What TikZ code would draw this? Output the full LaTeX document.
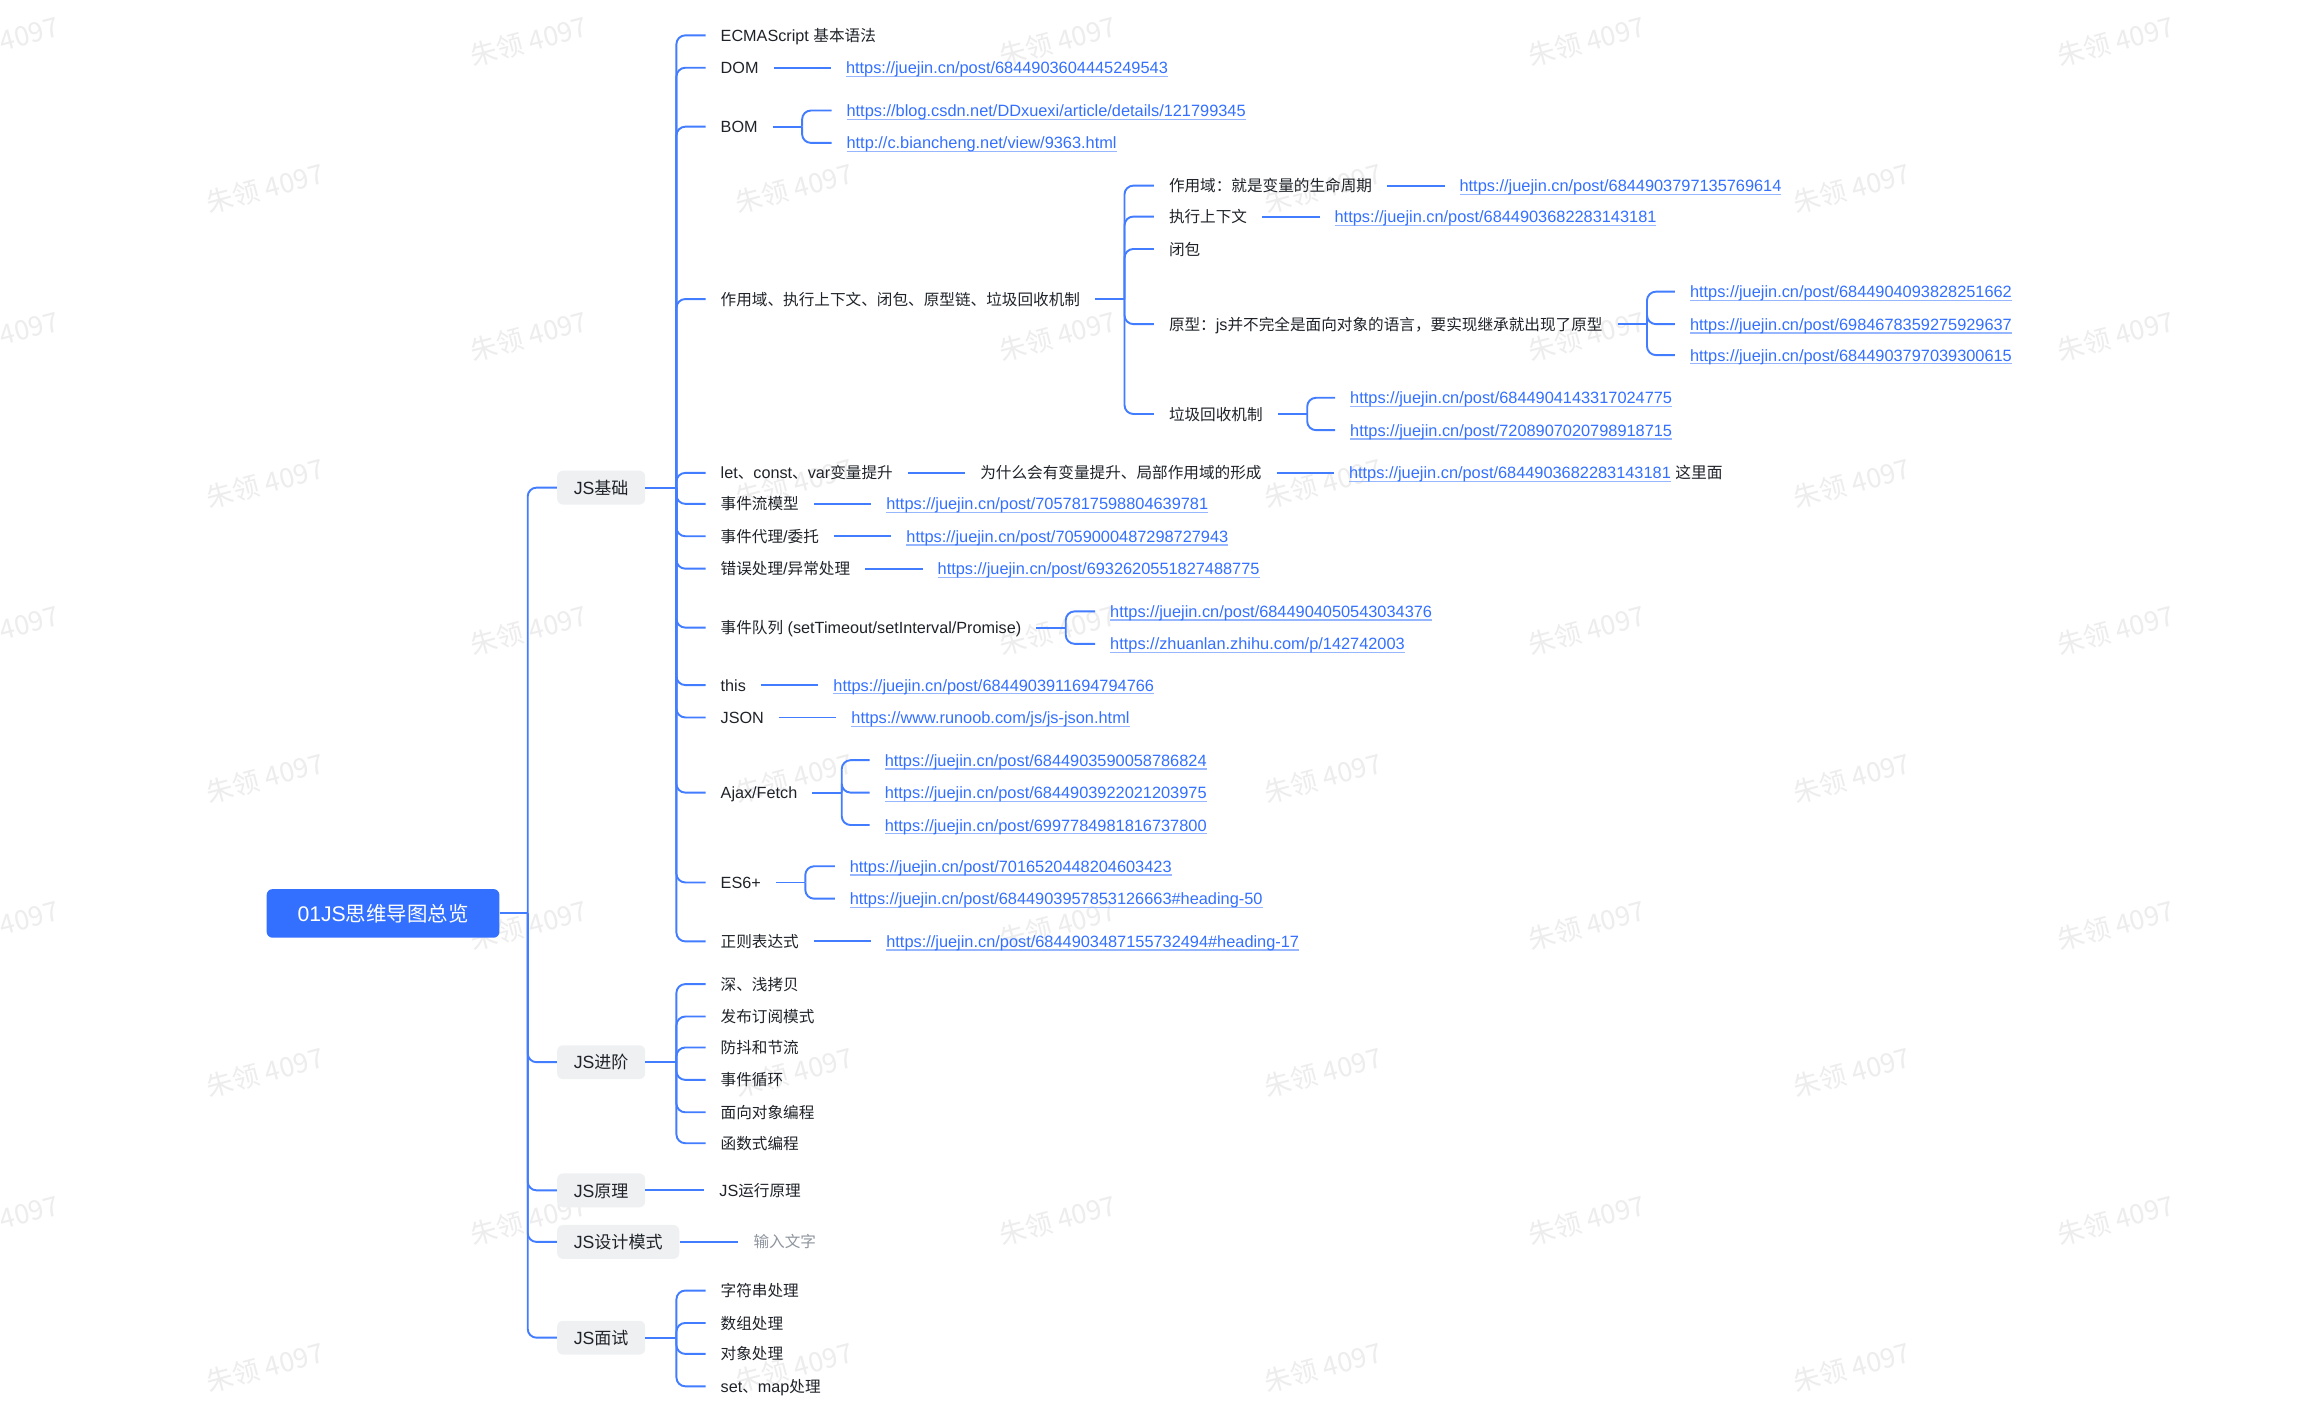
\documentclass[tikz,border=0pt]{standalone}
\usepackage{fontspec}
\setmainfont{Liberation Sans}
\newfontfamily\cjkf[Scale=0.964]{Noto Sans CJK SC}
\newcommand\C[1]{{\cjkf #1}}
\usetikzlibrary{calc}
\definecolor{brand}{RGB}{51,112,255}
\definecolor{lineblue}{RGB}{66,124,255}
\definecolor{lnk}{RGB}{51,112,255}
\definecolor{lnkline}{RGB}{150,182,255}
\definecolor{boxgray}{RGB}{239,240,242}
\definecolor{txt}{RGB}{31,35,41}
\definecolor{hintgray}{RGB}{143,149,158}
\definecolor{wmgray}{RGB}{237,237,237}
\newcommand\U[1]{\setbox0\hbox{#1}\rlap{\color{lnkline}\rule[-2.3pt]{\wd0}{0.9pt}}\box0}
\tikzset{
 conn/.style={draw=lineblue, line width=1.3pt, rounded corners=6pt},
 rootbox/.style={fill=brand, text=white, rounded corners=4pt, minimum width=158pt, minimum height=33pt, inner sep=0pt, font=\fontsize{14.4}{16}\selectfont, text height=10.8pt, text depth=0pt},
 topic/.style={fill=boxgray, text=txt, rounded corners=4pt, minimum height=23pt, inner xsep=11.3pt, inner ysep=0pt, font=\fontsize{12}{14}\selectfont, text height=9pt, text depth=0pt, anchor=west},
 leaf/.style={text=txt, inner xsep=10pt, inner ysep=2pt, font=\fontsize{11}{13}\selectfont, text height=8.2pt, text depth=0pt, anchor=west},
 link/.style={leaf, text=lnk, font=\fontsize{11.1}{13}\selectfont},
 hint/.style={leaf, text=hintgray},
 wmark/.style={text=wmgray, font=\cjkf\fontsize{19}{22}\selectfont, rotate=15, inner sep=0pt},
}
\begin{document}
\begin{tikzpicture}[x=1pt,y=-1pt]
\useasboundingbox[fill=white] (0,0) rectangle (1568,958);
% watermarks
\foreach \y in {28,228,428,628,828}{\foreach \x in {0,359,718,1077,1436}{\node[wmark] (wa-\x-\y) at (\x,\y) {朱领 4097};}}
\foreach \y in {128,328,528,728,928}{\foreach \x in {180,539,898,1257}{\node[wmark] (wb-\x-\y) at (\x,\y) {朱领 4097};}}

% root and main topics
\node[rootbox] (root) at (260,620) {01JS\C{思维导图总览}};
\coordinate (jr) at ($(root.east)+(19,0)$);
\node[topic] (jc) at (378,331) {JS\C{基础}};
\node[topic] (jj) at (378,721) {JS\C{进阶}};
\node[topic] (jy) at (378,808) {JS\C{原理}};
\node[topic] (js) at (378,843) {JS\C{设计模式}};
\node[topic] (jm) at (378,908) {JS\C{面试}};
\draw[conn] (root.east) -- (jr);
\foreach \n in {jc,jj,jy,js,jm} \draw[conn] (jr) |- (\n.west);

% JS基础
\coordinate (kc) at ($(jc.east)+(21,0)$);
\draw[conn] (jc.east) -- (kc);
\node[leaf] (a1) at (479,24) {ECMAScript \C{基本语法}};
\node[leaf] (a2) at (479,46) {DOM};
\node[leaf] (a3) at (479,86) {BOM};
\node[leaf] (a4) at (479,203) {\C{作用域、执行上下文、闭包、原型链、垃圾回收机制}};
\node[leaf] (a5) at (479,321) {let\C{、}const\C{、}var\C{变量提升}};
\node[leaf] (a6) at (479,342) {\C{事件流模型}};
\node[leaf] (a7) at (479,364) {\C{事件代理}/\C{委托}};
\node[leaf] (a8) at (479,386) {\C{错误处理}/\C{异常处理}};
\node[leaf] (a9) at (479,426) {\C{事件队列} (setTimeout/setInterval/Promise)};
\node[leaf] (a10) at (479,465) {this};
\node[leaf] (a11) at (479,487) {JSON};
\node[leaf] (a12) at (479,538) {Ajax/Fetch};
\node[leaf] (a13) at (479,599) {ES6+};
\node[leaf] (a14) at (479,639) {\C{正则表达式}};
\foreach \n in {a1,a2,a3,a4,a5,a6,a7,a8,a9,a10,a11,a12,a13,a14} \draw[conn] (kc) |- (\n.west);

% DOM
\node[link] (a2u) at ($(a2.east)+(39,0)$) {\U{https://juejin.cn/post/6844903604445249543}};
\draw[conn] (a2.east) -- (a2u.west);
% BOM
\coordinate (k3) at ($(a3.east)+(20,0)$);
\draw[conn] (a3.east) -- (k3);
\node[link] (a3u1) at ($(k3)+(20,-11)$) {\U{https://blog.csdn.net/DDxuexi/article/details/121799345}};
\node[link] (a3u2) at ($(k3)+(20,11)$) {\U{http://c.biancheng.net/view/9363.html}};
\foreach \n in {a3u1,a3u2} \draw[conn] (k3) |- (\n.west);

% scope group
\coordinate (k4) at ($(a4.east)+(20,0)$);
\draw[conn] (a4.east) -- (k4);
\node[leaf] (b1) at ($(k4)+(20,-77)$) {\C{作用域：就是变量的生命周期}};
\node[leaf] (b2) at ($(k4)+(20,-56)$) {\C{执行上下文}};
\node[leaf] (b3) at ($(k4)+(20,-34)$) {\C{闭包}};
\node[leaf] (b4) at ($(k4)+(20,17)$) {\C{原型：}js\C{并不完全是面向对象的语言，要实现继承就出现了原型}};
\node[leaf] (b5) at ($(k4)+(20,78)$) {\C{垃圾回收机制}};
\foreach \n in {b1,b2,b3,b4,b5} \draw[conn] (k4) |- (\n.west);
\node[link] (b1u) at ($(b1.east)+(39,0)$) {\U{https://juejin.cn/post/6844903797135769614}};
\draw[conn] (b1.east) -- (b1u.west);
\node[link] (b2u) at ($(b2.east)+(39,0)$) {\U{https://juejin.cn/post/6844903682283143181}};
\draw[conn] (b2.east) -- (b2u.west);
\coordinate (k44) at ($(b4.east)+(20,0)$);
\draw[conn] (b4.east) -- (k44);
\node[link] (b4u1) at ($(k44)+(19,-22)$) {\U{https://juejin.cn/post/6844904093828251662}};
\node[link] (b4u2) at ($(k44)+(19,0)$) {\U{https://juejin.cn/post/6984678359275929637}};
\node[link] (b4u3) at ($(k44)+(19,21)$) {\U{https://juejin.cn/post/6844903797039300615}};
\foreach \n in {b4u1,b4u2,b4u3} \draw[conn] (k44) |- (\n.west);
\coordinate (k45) at ($(b5.east)+(20,0)$);
\draw[conn] (b5.east) -- (k45);
\node[link] (b5u1) at ($(k45)+(19,-11)$) {\U{https://juejin.cn/post/6844904143317024775}};
\node[link] (b5u2) at ($(k45)+(19,11)$) {\U{https://juejin.cn/post/7208907020798918715}};
\foreach \n in {b5u1,b5u2} \draw[conn] (k45) |- (\n.west);

% hoisting
\node[leaf] (a5n) at ($(a5.east)+(39,0)$) {\C{为什么会有变量提升、局部作用域的形成}};
\draw[conn] (a5.east) -- (a5n.west);
\node[link] (a5u) at ($(a5n.east)+(39,0)$) {\U{https://juejin.cn/post/6844903682283143181}\hspace{3pt}\textcolor{txt}{\C{这里面}}};
\draw[conn] (a5n.east) -- (a5u.west);

% single links
\node[link] (a6u) at ($(a6.east)+(39,0)$) {\U{https://juejin.cn/post/7057817598804639781}};
\draw[conn] (a6.east) -- (a6u.west);
\node[link] (a7u) at ($(a7.east)+(39,0)$) {\U{https://juejin.cn/post/7059000487298727943}};
\draw[conn] (a7.east) -- (a7u.west);
\node[link] (a8u) at ($(a8.east)+(39,0)$) {\U{https://juejin.cn/post/6932620551827488775}};
\draw[conn] (a8.east) -- (a8u.west);

% event queue
\coordinate (k9) at ($(a9.east)+(20,0)$);
\draw[conn] (a9.east) -- (k9);
\node[link] (a9u1) at ($(k9)+(20,-11)$) {\U{https://juejin.cn/post/6844904050543034376}};
\node[link] (a9u2) at ($(k9)+(20,11)$) {\U{https://zhuanlan.zhihu.com/p/142742003}};
\foreach \n in {a9u1,a9u2} \draw[conn] (k9) |- (\n.west);

\node[link] (a10u) at ($(a10.east)+(39,0)$) {\U{https://juejin.cn/post/6844903911694794766}};
\draw[conn] (a10.east) -- (a10u.west);
\node[link] (a11u) at ($(a11.east)+(39,0)$) {\U{https://www.runoob.com/js/js-json.html}};
\draw[conn] (a11.east) -- (a11u.west);

% Ajax
\coordinate (k12) at ($(a12.east)+(20,0)$);
\draw[conn] (a12.east) -- (k12);
\node[link] (a12u1) at ($(k12)+(19,-22)$) {\U{https://juejin.cn/post/6844903590058786824}};
\node[link] (a12u2) at ($(k12)+(19,0)$) {\U{https://juejin.cn/post/6844903922021203975}};
\node[link] (a12u3) at ($(k12)+(19,22)$) {\U{https://juejin.cn/post/6997784981816737800}};
\foreach \n in {a12u1,a12u2,a12u3} \draw[conn] (k12) |- (\n.west);

% ES6
\coordinate (k13) at ($(a13.east)+(20,0)$);
\draw[conn] (a13.east) -- (k13);
\node[link] (a13u1) at ($(k13)+(20,-11)$) {\U{https://juejin.cn/post/7016520448204603423}};
\node[link] (a13u2) at ($(k13)+(20,11)$) {\U{https://juejin.cn/post/6844903957853126663\#heading-50}};
\foreach \n in {a13u1,a13u2} \draw[conn] (k13) |- (\n.west);

\node[link] (a14u) at ($(a14.east)+(39,0)$) {\U{https://juejin.cn/post/6844903487155732494\#heading-17}};
\draw[conn] (a14.east) -- (a14u.west);

% JS进阶
\coordinate (kj) at ($(jj.east)+(21,0)$);
\draw[conn] (jj.east) -- (kj);
\node[leaf] (c1) at (479,668) {\C{深、浅拷贝}};
\node[leaf] (c2) at (479,690) {\C{发布订阅模式}};
\node[leaf] (c3) at (479,711) {\C{防抖和节流}};
\node[leaf] (c4) at (479,733) {\C{事件循环}};
\node[leaf] (c5) at (479,755) {\C{面向对象编程}};
\node[leaf] (c6) at (479,776) {\C{函数式编程}};
\foreach \n in {c1,c2,c3,c4,c5,c6} \draw[conn] (kj) |- (\n.west);

% JS原理
\node[leaf] (d1) at ($(jy.east)+(40,0)$) {JS\C{运行原理}};
\draw[conn] (jy.east) -- (d1.west);

% JS设计模式
\node[hint] (e1) at ($(js.east)+(40,0)$) {\C{输入文字}};
\draw[conn] (js.east) -- (e1.west);

% JS面试
\coordinate (km) at ($(jm.east)+(21,0)$);
\draw[conn] (jm.east) -- (km);
\node[leaf] (f1) at (479,876) {\C{字符串处理}};
\node[leaf] (f2) at (479,898) {\C{数组处理}};
\node[leaf] (f3) at (479,919) {\C{对象处理}};
\node[leaf] (f4) at (479,941) {set\C{、}map\C{处理}};
\foreach \n in {f1,f2,f3,f4} \draw[conn] (km) |- (\n.west);
\end{tikzpicture}
\end{document}
